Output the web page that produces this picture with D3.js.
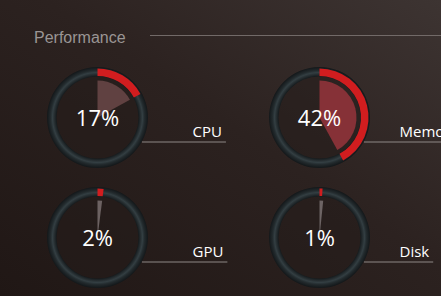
<!DOCTYPE html>
<html lang="en">
  <head>
    <meta charset="utf-8">
    <title>Performance</title>
    <script src="https://cdn.jsdelivr.net/npm/d3@7"></script>
    <style>
      html, body { margin: 0; padding: 0; overflow: hidden; }
      svg { display: block; }
    </style>
  </head>
  <body>
    <script>
    // chart values
    var title = "Performance";
    var labels = ["CPU", "Memory", "GPU", "Disk"];
    var values = [17, 42, 2, 1];

    var w = 441;
    var h = 296;

    var svg = d3.select("body")
                .append("svg")
                .attr("width", w)
                .attr("height", h);

    var defs = svg.append("defs");

    // background gradient, darker bottom-left
    var bg = defs.append("linearGradient")
                 .attr("id", "bg")
                 .attr("x1", "0").attr("y1", "1")
                 .attr("x2", "1").attr("y2", "0");
    bg.append("stop").attr("offset", "0").attr("stop-color", "#201715");
    bg.append("stop").attr("offset", "0.55").attr("stop-color", "#2c2220");
    bg.append("stop").attr("offset", "1").attr("stop-color", "#3d3432");

    svg.append("rect")
       .attr("width", w)
       .attr("height", h)
       .attr("fill", "url(#bg)");

    // header
    svg.append("text")
       .attr("x", 34)
       .attr("y", 43)
       .attr("font-family", "Liberation Sans, Arial, sans-serif")
       .attr("font-size", 16)
       .attr("fill", "#9a9594")
       .text(title);

    svg.append("line")
       .attr("x1", 150).attr("x2", w)
       .attr("y1", 35.5).attr("y2", 35.5)
       .attr("stroke", "#726a68")
       .attr("stroke-width", 1);

    // grid of gauges
    var xScale = d3.scalePoint().domain([0, 1]).range([97.5, 319.5]);
    var yScale = d3.scalePoint().domain([0, 1]).range([117.5, 237.5]);
    var labelOffset = d3.scaleOrdinal().domain([0, 1]).range([95, 80]);

    var angle = d3.scaleLinear().domain([0, 100]).range([0, 2 * Math.PI]);
    var wedgeColor = d3.scaleLinear()
                       .domain([0, 20, 45])
                       .range(["#6e6666", "#5e3b3b", "#8b3036"]);

    var rOuter = 50.5, rInner = 41;

    // ring gradient
    var ring = defs.append("radialGradient")
                   .attr("id", "ring")
                   .attr("gradientUnits", "objectBoundingBox")
                   .attr("cx", "0.5").attr("cy", "0.5").attr("r", "0.5");
    ring.append("stop").attr("offset", rInner / rOuter).attr("stop-color", "#161b1d");
    ring.append("stop").attr("offset", (rInner + 4) / rOuter).attr("stop-color", "#333e42");
    ring.append("stop").attr("offset", "0.93").attr("stop-color", "#232b2e");
    ring.append("stop").attr("offset", "1").attr("stop-color", "#131719");

    var data = labels.map(function(d, i) {
      return { label: d, value: values[i], col: i % 2, row: Math.floor(i / 2) };
    });

    var ringArc = d3.arc().innerRadius(rInner).outerRadius(rOuter)
                    .startAngle(0).endAngle(2 * Math.PI);
    var valueArc = d3.arc().innerRadius(rInner + 0.5).outerRadius(rOuter - 1.5).startAngle(0);
    var wedgeArc = d3.arc().innerRadius(0).outerRadius(37).startAngle(0);

    var g = svg.selectAll("g.gauge")
               .data(data)
               .enter()
               .append("g")
               .attr("class", "gauge")
               .attr("transform", function(d) {
                 return "translate(" + xScale(d.col) + "," + yScale(d.row) + ")";
               });

    // inner disc, slightly darker
    g.append("circle")
     .attr("r", rInner)
     .attr("fill", "#231b19")
     .attr("opacity", 0.5);

    g.append("path")
     .attr("d", ringArc)
     .attr("fill", "url(#ring)");

    g.append("path")
     .attr("d", function(d) {
       return wedgeArc.endAngle(angle(Math.max(d.value, 1.6)))();
     })
     .attr("fill", function(d) { return wedgeColor(d.value); });

    g.append("path")
     .attr("d", function(d) {
       return valueArc.endAngle(angle(d.value))();
     })
     .attr("fill", "#d11d1f");

    g.append("text")
     .attr("y", 8)
     .attr("text-anchor", "middle")
     .attr("font-family", "Open Sans, sans-serif")
     .attr("font-size", 22)
     .attr("fill", "#ffffff")
     .text(function(d) { return d.value + "%"; });

    // labels and leader lines
    g.append("text")
     .attr("class", "label")
     .attr("x", function(d) { return labelOffset(d.col); })
     .attr("y", 19)
     .attr("font-family", "Open Sans, sans-serif")
     .attr("font-size", 15)
     .attr("fill", "#ffffff")
     .text(function(d) { return d.label; });

    g.append("line")
     .attr("x1", Math.sqrt(rOuter * rOuter - 24 * 24))
     .attr("x2", function(d) {
       var t = d3.select(this.parentNode).select("text.label").node();
       return labelOffset(d.col) + t.getComputedTextLength() + 4;
     })
     .attr("y1", 24.5)
     .attr("y2", 24.5)
     .attr("stroke", "#8d8886")
     .attr("stroke-width", 1.2);
    </script>
  </body>
</html>
